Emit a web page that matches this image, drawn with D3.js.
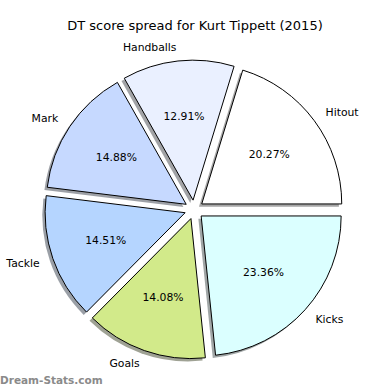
<!DOCTYPE html>
<html>
<head>
<meta charset="utf-8">
<script src="https://cdn.jsdelivr.net/npm/d3@7"></script>
<style>
  body { margin: 0; background: #fff; }
  text { font-family: "DejaVu Sans", sans-serif; }
</style>
</head>
<body>
<div id="chart"></div>
<script>
const categories = ["Hitout", "Handballs", "Mark", "Tackle", "Goals", "Kicks"];
const shares = [20.27, 12.91, 14.88, 14.51, 14.08, 23.36];
const colors = ["#ffffff", "#eaf0ff", "#c6d9ff", "#b5d5ff", "#d2ea8a", "#dbffff"];

const width = 390, height = 390;
const cx = 194.1, cy = 209.6, radius = 140;
const explode = 9.5;

const svg = d3.select("#chart").append("svg")
    .attr("width", width)
    .attr("height", height);

svg.append("text")
    .attr("x", 195)
    .attr("y", 29.5)
    .attr("text-anchor", "middle")
    .style("font-size", "13px")
    .text("DT score spread for Kurt Tippett (2015)");

// matplotlib style: start at 3 o'clock and go counterclockwise
const pie = d3.pie()
    .sort(null)
    .startAngle(Math.PI / 2)
    .endAngle(Math.PI / 2 - 2 * Math.PI);

const arcs = pie(shares);
const arc = d3.arc().innerRadius(0).outerRadius(radius);

const mid = d => (d.startAngle + d.endAngle) / 2;
const dir = d => [Math.sin(mid(d)), -Math.cos(mid(d))];

const g = svg.append("g").attr("transform", `translate(${cx},${cy})`);

// shadows go under all wedges
g.selectAll(".shadow")
  .data(arcs)
  .enter().append("path")
    .attr("class", "shadow")
    .attr("d", arc)
    .attr("transform", d => {
      const [dx, dy] = dir(d);
      return `translate(${dx * explode - 2.8},${dy * explode + 2.8})`;
    })
    .attr("fill", (d, i) => {
      const c = d3.rgb(colors[i]);
      return d3.rgb(c.r * 0.3, c.g * 0.3, c.b * 0.3);
    })
    .attr("fill-opacity", 0.5);

g.selectAll(".wedge")
  .data(arcs)
  .enter().append("path")
    .attr("class", "wedge")
    .attr("d", arc)
    .attr("transform", d => {
      const [dx, dy] = dir(d);
      return `translate(${dx * explode},${dy * explode})`;
    })
    .attr("fill", (d, i) => colors[i])
    .attr("stroke", "#000")
    .attr("stroke-width", 1)
    .attr("stroke-linejoin", "miter");

g.selectAll(".label")
  .data(arcs)
  .enter().append("text")
    .attr("class", "label")
    .attr("x", d => dir(d)[0] * (explode + 1.1 * radius))
    .attr("y", d => dir(d)[1] * (explode + 1.1 * radius))
    .attr("text-anchor", d => dir(d)[0] > 0 ? "start" : "end")
    .attr("dominant-baseline", "central")
    .style("font-size", "10.8px")
    .text((d, i) => categories[i]);

g.selectAll(".pct")
  .data(arcs)
  .enter().append("text")
    .attr("class", "pct")
    .attr("x", d => dir(d)[0] * (explode + 0.6 * radius))
    .attr("y", d => dir(d)[1] * (explode + 0.6 * radius))
    .attr("text-anchor", "middle")
    .attr("dominant-baseline", "central")
    .style("font-size", "10.8px")
    .text(d => d.data.toFixed(2) + "%");

svg.append("text")
    .attr("x", 0)
    .attr("y", 384)
    .style("font-size", "10.5px")
    .style("font-weight", "bold")
    .attr("fill", "#8a8a8a")
    .text("Dream-Stats.com");
</script>
</body>
</html>
